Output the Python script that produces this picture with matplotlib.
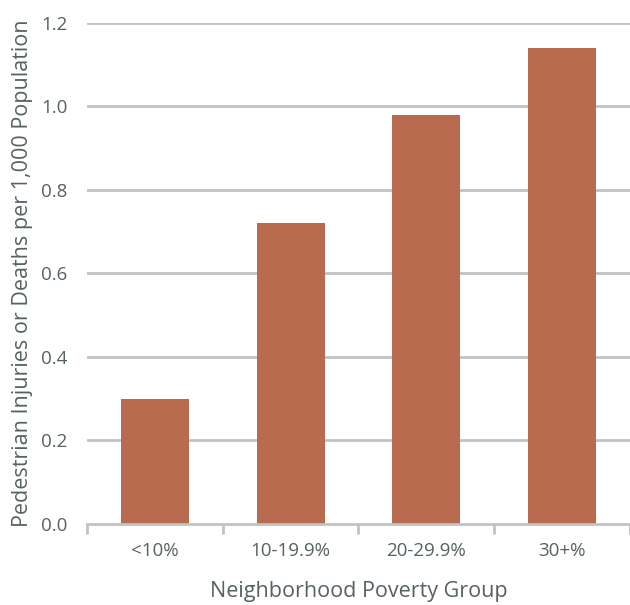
import matplotlib.pyplot as plt
import numpy as np

plt.rcParams['font.family'] = ['Open Sans', 'DejaVu Sans']

groups = ['<10%', '10-19.9%', '20-29.9%', '30+%']
rates = [0.30, 0.72, 0.98, 1.14]
y_ticks = [0.0, 0.2, 0.4, 0.6, 0.8, 1.0, 1.2]

bar_color = '#b96b4f'
grid_color = '#bfc3c1'
text_color = '#56635c'

fig = plt.figure(figsize=(6.3, 6.05), dpi=100)
ax = fig.add_axes([0.138, 0.134, 0.862, 0.828])

x = np.arange(len(groups))
ax.bar(x, rates, width=0.5, color=bar_color, zorder=3)

ax.set_xlim(-0.5, len(groups) - 0.5)
ax.set_ylim(0, 1.2)
ax.set_yticks(y_ticks)
ax.set_yticklabels(['{:.1f}'.format(v) for v in y_ticks])
for v in y_ticks[1:]:
    ax.axhline(v, color=grid_color, lw=2, zorder=1)

# category labels between the boundary ticks
ax.set_xticks(x)
ax.set_xticklabels(groups)
ax.set_xticks(np.arange(-0.5, len(groups)), minor=True)
ax.tick_params(axis='x', which='major', length=0, pad=13,
               labelsize=13.5, labelcolor=text_color)
ax.tick_params(axis='x', which='minor', length=7, width=2, color=grid_color)
ax.tick_params(axis='y', length=0, pad=14, labelsize=13.5, labelcolor=text_color)

for side in ['top', 'right', 'left']:
    ax.spines[side].set_visible(False)
ax.spines['bottom'].set_color(grid_color)
ax.spines['bottom'].set_linewidth(2)
ax.spines['bottom'].set_zorder(4)

ax.set_xlabel('Neighborhood Poverty Group', fontsize=15.5, color=text_color, labelpad=15)
ax.set_ylabel('Pedestrian Injuries or Deaths per 1,000 Population',
              fontsize=15.5, color=text_color, labelpad=6)

fig.savefig('out.png', dpi=100)
